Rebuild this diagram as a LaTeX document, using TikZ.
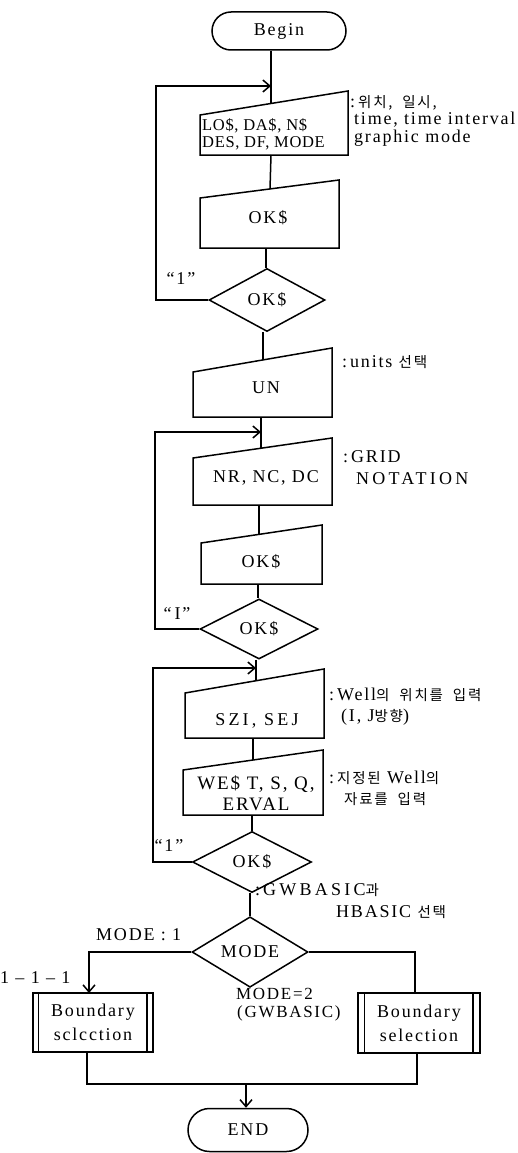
\documentclass[tikz,border=0pt]{standalone}
\usepackage{fontspec}
\setmainfont{Liberation Serif}[LetterSpace=10]
\newfontfamily\tight{Liberation Serif}[LetterSpace=4]
\newfontfamily\wide{Liberation Serif}[LetterSpace=18]
\newfontfamily\krf{Noto Sans CJK KR}[LetterSpace=12]
\newcommand{\kr}{\krf\fontsize{14.5}{17}\selectfont}
\usetikzlibrary{arrows.meta,shapes.geometric,shapes.misc,calc}
\tikzset{
  flow/.style={line width=1.5pt},
  arr/.style={line width=1.5pt,-{Straight Barb[length=7pt,width=12pt]}},
  boxline/.style={draw,line width=1.5pt,line join=miter},
  txt/.style={inner sep=0pt,font=\fontsize{18}{20}\selectfont},
  ann/.style={inner sep=0pt,anchor=west,font=\fontsize{18}{20}\selectfont},
  term/.style={draw,line width=1.5pt,rounded rectangle,inner sep=0pt,font=\fontsize{18}{20}\selectfont},
  dec/.style={draw,line width=1.5pt,diamond,inner sep=0pt,font=\fontsize{18}{20}\selectfont},
}
\begin{document}
\begin{tikzpicture}[x=1pt,y=-1pt]
\useasboundingbox (0,0) rectangle (518,1153);
% Begin
\node[term,minimum width=134pt,minimum height=38pt] (begin) at (279,31) {Begin};
% box 1
\draw[boxline] (200,115) -- (348,91) -- (348,155) -- (200,155) -- cycle;
\coordinate (b1t) at (271,103.5); \coordinate (b1b) at (271,155);
\node[inner sep=0pt,align=left,anchor=west,font=\tight\fontsize{16.5}{16.5}\selectfont] (b1) at (202,134.5) {LO\$, DA\$, N\$\\DES, DF, MODE};
\node[ann] (a1) at (350,103) {:\,{\kr 위치,\ \ 일시,}};
\node[ann] (a2) at (354,120) {time, time interval};
\node[ann] (a3) at (354,138) {graphic mode};
% box 2
\draw[boxline] (200,198) -- (339,180) -- (339,248) -- (200,248) -- cycle;
\coordinate (b2t) at (270,189); \coordinate (b2b) at (266,248);
\node[txt] (b2) at (268,218) {OK\$};
% diamond 1
\node[dec,minimum width=116pt,minimum height=63pt] (d1) at (267,300) {OK\$};
\node[txt] (l1) at (181,279) {“1”};
% box 3
\draw[boxline] (193,372) -- (332,348) -- (332,417) -- (193,417) -- cycle;
\coordinate (b3t) at (263,360); \coordinate (b3b) at (261,417);
\node[txt] (b3) at (266,388) {UN};
\node[ann] (a4) at (342,362) {:\,units {\kr 선택}};
% box 4
\draw[boxline] (193,458) -- (332,438) -- (332,505) -- (193,505) -- cycle;
\coordinate (b4t) at (261,448); \coordinate (b4b) at (259,505);
\coordinate (j2) at (261,432);
\node[txt] (b4) at (266,478) {NR, NC, DC};
\node[ann] (a5) at (343,457) {:\,GRID};
\node[ann,font=\wide\fontsize{18}{20}\selectfont] (a6) at (356,479) {NOTATION};
% box 5
\draw[boxline] (201,543) -- (322,525) -- (322,584) -- (201,584) -- cycle;
\coordinate (b5t) at (259,534); \coordinate (b5b) at (258,584);
\node[txt] (b5) at (261,562) {OK\$};
% diamond 2
\node[dec,minimum width=118pt,minimum height=60pt] (d2) at (259,629) {OK\$};
\node[txt] (l2) at (177,613) {“\,I”};
% box 6
\draw[boxline] (185,693) -- (324,669) -- (324,738) -- (185,738) -- cycle;
\coordinate (b6t) at (256,681); \coordinate (b6b) at (253,738);
\coordinate (j3) at (256,668);
\node[txt,font=\wide\fontsize{18}{20}\selectfont] (b6) at (257,721) {SZI, SEJ};
\node[ann] (a7) at (329,695) {:\,Well{\kr 의\ \ 위치를\ \ 입력}};
\node[ann] (a8) at (341,717) {(I, J{\kr 방향})};
% box 7
\draw[boxline] (183,770) -- (323,750) -- (323,815) -- (183,815) -- cycle;
\coordinate (b7t) at (253,760); \coordinate (b7b) at (252,815);
\node[inner sep=0pt,align=center,font=\fontsize{19}{21}\selectfont] (b7) at (256,793) {WE\$ T, S, Q,\\ERVAL};
\node[ann] (a9) at (329,778) {:\,{\kr 지정된}\ Well{\kr 의}};
\node[ann] (a10) at (344,799) {{\kr 자료를\ \ 입력}};
% diamond 3
\node[dec,minimum width=119pt,minimum height=61pt] (d3) at (252,862) {OK\$};
\node[txt] (l3) at (169,845) {“1”};
% MODE diamond
\node[dec,minimum width=116pt,minimum height=61pt] (dm) at (250,952) {MODE};
\node[ann,font=\wide\fontsize{18}{20}\selectfont] (a11) at (255,890) {:\,GWBASIC{\kr 과}};
\node[ann] (a12) at (336,912) {HBASIC {\kr 선택}};
\node[ann] (l4) at (96,935) {MODE : 1};
\node[ann] (l5) at (0,978) {1 – 1 – 1};
\node[ann,font=\fontsize{17}{19}\selectfont] (l6) at (236,994) {MODE=2};
\node[ann,font=\fontsize{17}{19}\selectfont] (l7) at (237,1013) {(GWBASIC)};
% boundary boxes
\node[draw,line width=1.5pt,minimum width=120pt,minimum height=59pt,inner sep=0pt,align=center,font=\fontsize{18}{24}\selectfont] (bl) at (93,1022.5) {Boundary\\sclcction};
\draw[flow] ([xshift=6pt]bl.north west) -- ([xshift=6pt]bl.south west);
\draw[flow] ([xshift=-7pt]bl.north east) -- ([xshift=-7pt]bl.south east);
\node[draw,line width=1.5pt,minimum width=122pt,minimum height=60pt,inner sep=0pt,align=center,font=\fontsize{18}{24}\selectfont] (br) at (419,1023) {Boundary\\selection};
\draw[flow] ([xshift=7pt]br.north west) -- ([xshift=7pt]br.south west);
\draw[flow] ([xshift=-8pt]br.north east) -- ([xshift=-8pt]br.south east);
% END
\node[term,minimum width=120pt,minimum height=43pt] (end) at (248,1130) {END};
\coordinate (jb) at (246,1084);
% connectors
\draw[flow] (begin.south -| b1t) -- (b1t);
\draw[flow] (b1b) -- (b2t);
\draw[flow] (b2b) -- (b2b |- d1.north);
\draw[flow] (d1.south -| b3t) -- (b3t);
\draw[flow] (b3b) -- (b4t);
\draw[flow] (b4b) -- (b5t);
\draw[flow] (b5b) -- (b5b |- d2.north);
\draw[flow] (d2.south -| b6t) -- (b6t);
\draw[flow] (b6b) -- (b7t);
\draw[flow] (b7b) -- (b7b |- d3.north);
\draw[flow] (d3.south -| dm.north) -- (dm.north);
% loops
\coordinate (j1) at (271,86);
\draw[arr] (d1.west) -- (156,300) -- (156,86) -- (j1);
\draw[arr] (d2.west) -- (155,629) -- (155,432) -- (j2);
\draw[arr] (d3.west) -- (153,862) -- (153,668) -- (j3);
% MODE branches
\draw[arr] (dm.west) -- (89,952) -- (89,993);
\draw[flow] (dm.east) -- (415,952) -- (415,993);
\draw[flow] (87,1052) -- (87,1084) -- (417,1084) -- (417,1053);
\draw[arr] (jb) -- (end.north -| jb);
\end{tikzpicture}
\end{document}
